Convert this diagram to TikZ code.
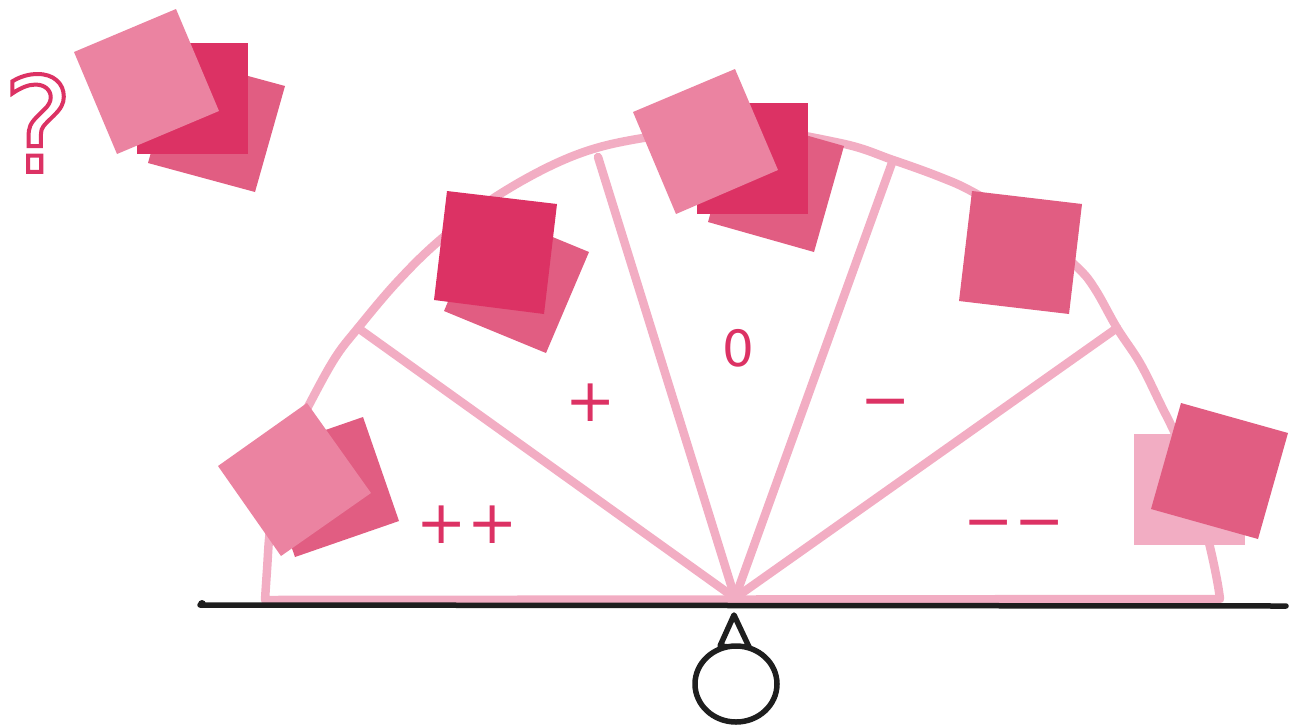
\documentclass[tikz,border=0pt]{standalone}
\usepackage{fontspec}
\setmainfont{DejaVu Sans}
\definecolor{pinkdark}{HTML}{DC3264}
\definecolor{pinkmid}{HTML}{E15D82}
\definecolor{pinklight}{HTML}{EB83A1}
\definecolor{pinkpale}{HTML}{F2ADC3}
\definecolor{inkblack}{HTML}{1E1E1E}

\begin{document}
\begin{tikzpicture}[x=1pt, y=-1pt,
    fanline/.style={pinkpale, line width=8.5pt, line cap=round, line join=round},
    sign/.style={text=pinkdark, inner sep=0pt, font=\fontsize{60}{60}\selectfont}]
    \useasboundingbox (0,0) rectangle (1292,724);

    % 扇形の外枠
    \draw[fanline] plot[smooth, tension=0.6] coordinates {(265,600) (267,570) (270,530) (278,480) (292,440) (310,403) (335,358) (358,328) (397,282) (440,240) (500,194) (573,156) (643,138) (740,128) (840,143) (893,160) (940,177) (973,192) (1030,226) (1077,267) (1095,289) (1117,328) (1140,363) (1160,403) (1180,445) (1197,495) (1210,547) (1217,580) (1220,599)} -- cycle;

    % 支点から伸びる区切り線
    \coordinate (pivot) at (735,598);
    \coordinate (cutA) at (358,328);
    \coordinate (cutB) at (598,157);
    \coordinate (cutC) at (893,160);
    \coordinate (cutD) at (1117,328);
    \draw[fanline] (pivot) -- (cutA);
    \draw[fanline] (pivot) -- (cutB);
    \draw[fanline] (pivot) -- (cutC);
    \draw[fanline] (pivot) -- (cutD);

    % 黒い台と支点
    \draw[inkblack, line width=5.5pt, line cap=round] (200,605) -- (1286,606);
    \fill[inkblack] (202,604) circle (4);
    \draw[inkblack, line width=5.5pt, line join=round] (734,615) -- (720,646) -- (750,649) -- cycle;
    \draw[inkblack, line width=5.5pt, fill=white] (736,684) ellipse (41 and 38);

    % 左上の束（まだ置かれていない）
    \fill[pinkmid] (148,163) -- (255,192) -- (285,86) -- (178,57) -- cycle;
    \fill[pinkdark] (137,43) rectangle (248,154);
    \fill[pinklight] (74,52) -- (176,9) -- (219,111) -- (117,154) -- cycle;

    % 上の束
    \fill[pinkmid] (708,222) -- (814,252) -- (844,146) -- (738,116) -- cycle;
    \fill[pinkdark] (697,103) rectangle (808,214);
    \fill[pinklight] (633,112) -- (735,69) -- (778,170) -- (676,214) -- cycle;

    % 左の束
    \fill[pinkmid] (444,311) -- (546,353) -- (589,252) -- (487,210) -- cycle;
    \fill[pinkdark] (447,191) -- (557,204) -- (544,314) -- (434,300) -- cycle;

    % 右の一枚
    \fill[pinkmid] (972,191) -- (1082,204) -- (1069,314) -- (959,301) -- cycle;

    % 左下の束
    \fill[pinkmid] (295,557) -- (399,521) -- (363,417) -- (259,453) -- cycle;
    \fill[pinklight] (218,466) -- (307,403) -- (371,493) -- (281,556) -- cycle;

    % 右下の束
    \fill[pinkpale] (1134,434) rectangle (1245,545);
    \fill[pinkmid] (1181,403) -- (1288,433) -- (1258,539) -- (1151,509) -- cycle;

    % 区画の記号
    \node[sign] (plusplus) at (467,525) {++};
    \node[sign] (plus) at (591,403) {+};
    \node[sign, font=\fontsize{50}{50}\selectfont] (zero) at (738,348) {0};
    \node[sign] (minus) at (886,410) {−};
    \node[sign] (minusminus) at (1014,531) {−−};

    % 疑問符
    \node[text=pinkdark, inner sep=0pt, font=\fontsize{132}{132}\selectfont] (qmark) at (38,123)
        {\special{pdf:literal direct 1 Tr 4 w}?\special{pdf:literal direct 0 Tr}};
\end{tikzpicture}
\end{document}
